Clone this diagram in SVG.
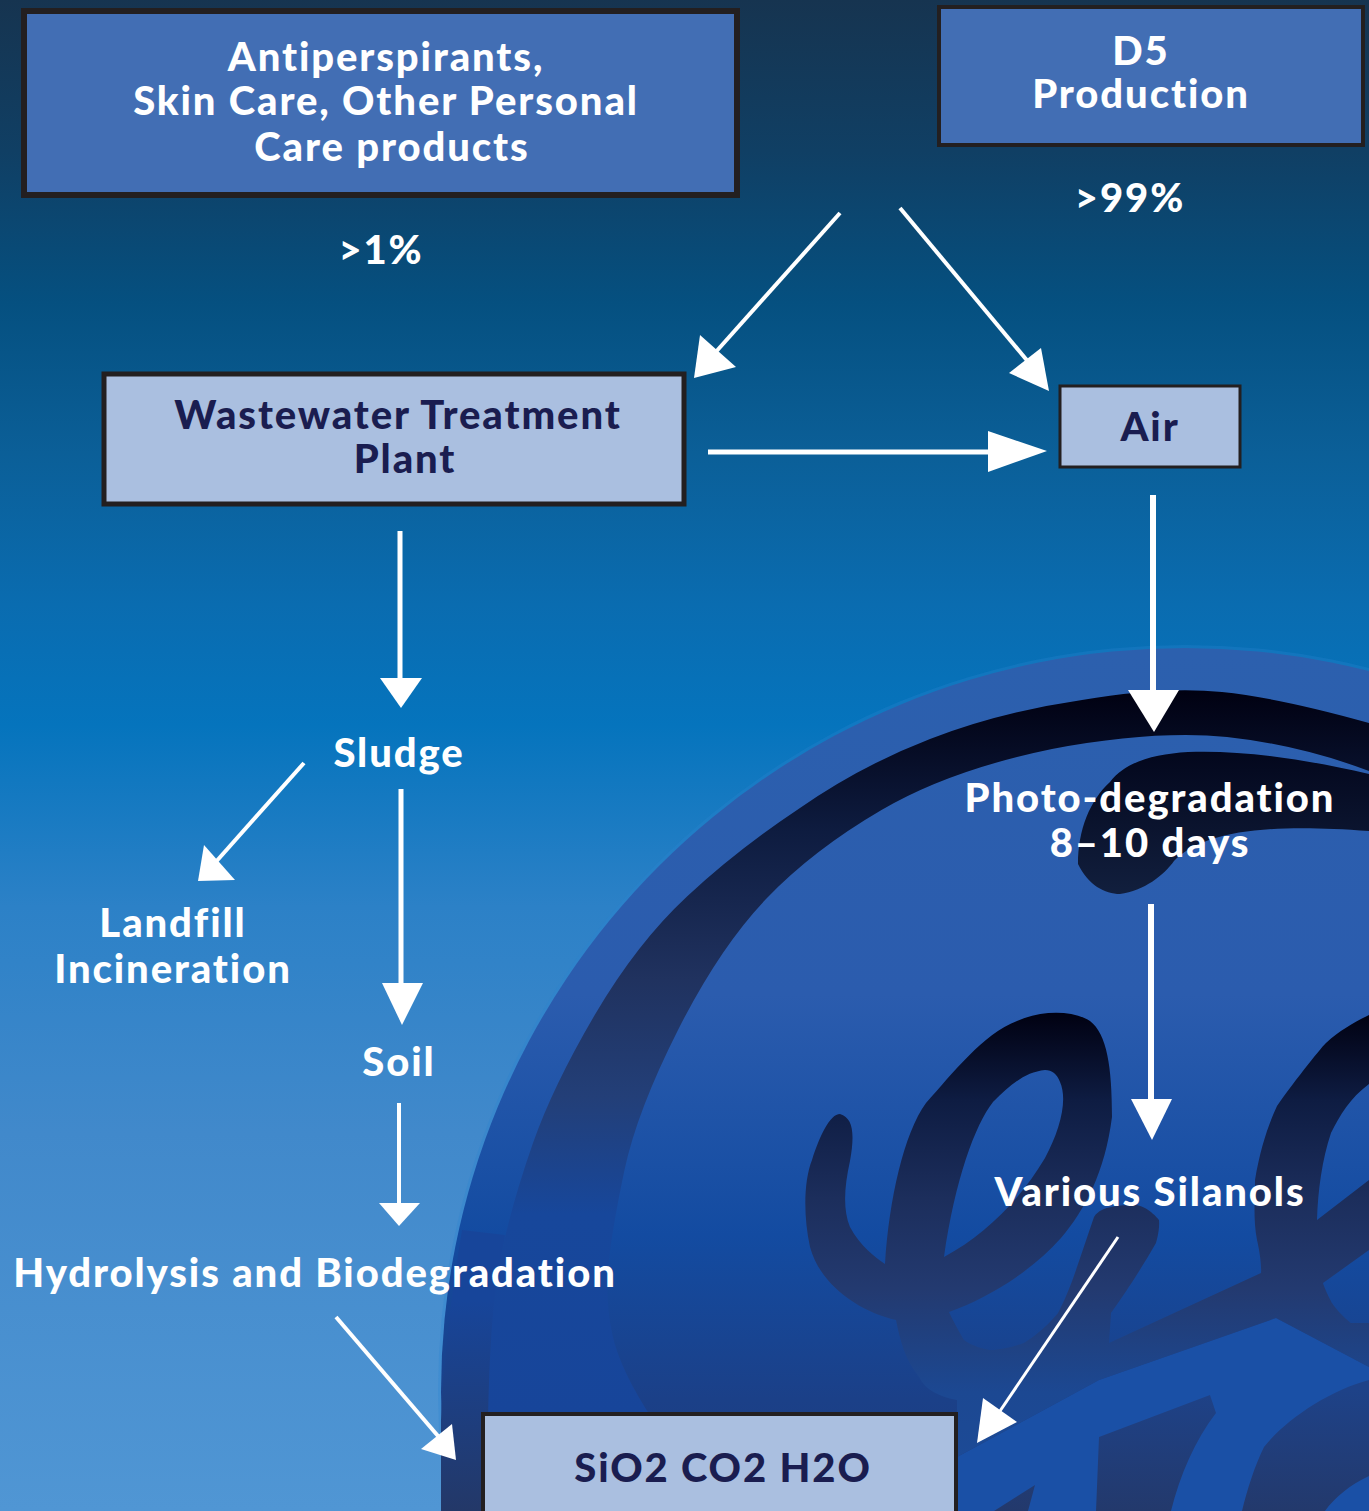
<svg xmlns="http://www.w3.org/2000/svg" width="1369" height="1511" viewBox="0 0 1369 1511">
<defs>
<linearGradient id="bg" x1="0" y1="0" x2="0" y2="1">
<stop offset="0" stop-color="#163450"/><stop offset=".1" stop-color="#103f64"/><stop offset=".2" stop-color="#055080"/><stop offset=".3" stop-color="#0b5f98"/><stop offset=".4" stop-color="#0a6cb0"/><stop offset=".48" stop-color="#0574bd"/><stop offset=".6" stop-color="#2c81c7"/><stop offset=".75" stop-color="#4189cb"/><stop offset="1" stop-color="#5096d4"/>
</linearGradient>
<linearGradient id="disc" gradientUnits="userSpaceOnUse" x1="0" y1="650" x2="0" y2="1511">
<stop offset="0" stop-color="#2c60ae"/><stop offset=".4" stop-color="#2b5cae"/><stop offset=".68" stop-color="#134ba1"/><stop offset=".87" stop-color="#1b4088"/><stop offset="1" stop-color="#1e3c80"/>
</linearGradient>
<linearGradient id="ring" gradientUnits="userSpaceOnUse" x1="0" y1="686" x2="0" y2="1420">
<stop offset="0" stop-color="#000010"/><stop offset=".2" stop-color="#0e1c40"/><stop offset=".4" stop-color="#20325f"/><stop offset=".56" stop-color="#233f78"/><stop offset=".72" stop-color="#17479b"/><stop offset="1" stop-color="#17459a"/>
</linearGradient>
<linearGradient id="ink" gradientUnits="userSpaceOnUse" x1="0" y1="741" x2="0" y2="900">
<stop offset="0" stop-color="#02051a"/><stop offset="1" stop-color="#12203f"/>
</linearGradient>
<linearGradient id="script" gradientUnits="userSpaceOnUse" x1="0" y1="1010" x2="0" y2="1460">
<stop offset="0" stop-color="#000010"/><stop offset=".2" stop-color="#0e1c42"/><stop offset=".42" stop-color="#1c2e5c"/><stop offset=".62" stop-color="#233a70"/><stop offset=".85" stop-color="#1c4892"/><stop offset="1" stop-color="#1c4a96"/>
</linearGradient>
<linearGradient id="block" gradientUnits="userSpaceOnUse" x1="0" y1="1390" x2="0" y2="1511">
<stop offset="0" stop-color="#1e4288"/><stop offset="1" stop-color="#23396c"/>
</linearGradient>
<linearGradient id="edge" gradientUnits="userSpaceOnUse" x1="0" y1="1300" x2="0" y2="1511">
<stop offset="0" stop-color="#17459a"/><stop offset="1" stop-color="#233868"/>
</linearGradient>
<style>
text{font-family:"Lato","Liberation Sans",sans-serif;font-weight:900;font-size:40px;letter-spacing:1.9px;text-anchor:middle;fill:#fff}
.d{fill:#1a1d50}
.dark{fill:#426eb4;stroke:#231f20}
.light{fill:#aabfe0;stroke:#231f20}
.ln{stroke:#fff;fill:none}
.hd{fill:#fff}
</style>
</defs>
<rect id="background" width="1369" height="1511" fill="url(#bg)"/>
<g id="logo">
<circle cx="1185" cy="1392" r="747" fill="#2a86d2" opacity=".3"/>
<circle cx="1185" cy="1392" r="744" fill="url(#disc)"/>
<path fill="url(#edge)" d="M462 1230Q445 1330 441 1420L441 1511H486L488 1420Q490 1330 505 1235Z"/>
<path fill="#1a55ab" d="M497 1300Q488 1370 490 1420H540Q530 1370 540 1300Z" opacity=".8"/>
<path fill="url(#ring)" d="M1369 723Q1280 698 1222 692Q1164 686 1082 700Q1000 712 930 739Q860 766 798.500 809Q737 850 687 896.500Q637 943 595 1014.500Q553 1086 533 1143Q513 1200 501.500 1252.500Q490 1305 488 1420L653 1420Q620 1370 612.500 1335Q605 1300 608.500 1264.500Q612 1229 624.500 1170Q637 1111 678.500 1029Q720 947 766.500 898.500Q813 850 881.500 810Q950 770 1052 749Q1154 730 1227 737Q1300 745 1369 771Z"/>
<path fill="url(#ink)" d="M1369 774C1300 758 1240 750 1188 752C1154 754 1125 762 1110 782C1090 800 1078 830 1078 864C1088 885 1105 894 1120 894C1144 891 1164 875 1174 861C1203 832 1262 823 1369 831Z"/>
<path fill="#1a50a6" d="M957 1457L1099 1380L1276 1318L1369 1367V1511H957Z"/>
<path fill="url(#script)" fill-rule="evenodd" d="M840 1114C853 1118 855 1133 850 1161C844 1188 843 1210 850 1227C860 1246 875 1257 885 1264C889 1199 904 1133 926 1103C953 1073 983 1034 1017 1021C1041 1010 1073 1010 1090 1021C1107 1034 1112 1067 1112 1117C1105 1172 1085 1210 1061 1238C1032 1271 988 1298 949 1312C955 1325 964 1340 964 1340C975 1348 990 1350 990 1350C1005 1350 1024 1343 1024 1343C1045 1330 1058 1313 1058 1313C1068 1295 1077 1267 1077 1267L1094 1217C1098 1210 1107 1208 1107 1208C1120 1204 1137 1205 1137 1205C1150 1208 1159 1220 1159 1220C1160 1230 1156 1243 1156 1243C1135 1280 1111 1313 1111 1313L1109 1343L1261 1273C1262 1260 1257 1240 1257 1240C1253 1220 1255 1199 1255 1180C1260 1150 1268 1125 1277 1106C1295 1080 1325 1043 1326 1043C1340 1030 1355 1022 1369 1015V1084C1350 1098 1340 1115 1331 1133C1322 1160 1318 1190 1317 1220L1369 1180V1250L1323 1283C1325 1290 1332 1303 1332 1303C1340 1315 1351 1323 1351 1323H1369V1367L1276 1318L1099 1380L957 1457V1400C940 1397 925 1390 919 1377C905 1360 900 1340 896 1320C860 1312 820 1285 810 1247C803 1215 804 1180 812 1160C820 1135 830 1114 840 1114ZM1045 1070C1025 1072 1010 1085 993 1102C975 1125 955 1180 944 1257C985 1235 1020 1200 1045 1158C1060 1130 1068 1100 1060 1082C1057 1074 1052 1070 1045 1070Z"/>
<path fill="url(#block)" d="M1099 1437L1210 1395L1216 1413C1195 1440 1180 1475 1171 1511H1096Z"/>
<path fill="url(#block)" d="M1242 1511C1247 1490 1255 1465 1264 1447C1285 1420 1330 1390 1369 1380V1476C1350 1485 1335 1497 1325 1511Z"/>
<path fill="url(#block)" d="M994 1511L1035 1485L1028 1511Z"/>
</g>
<g id="connectors">
<g class="ln">
<path stroke-width="4" d="M840 213L714 354"/>
<path stroke-width="4" d="M900 208L1030 364"/>
<path stroke-width="5" d="M708 452H995"/>
<path stroke-width="6" d="M1153 495V695"/>
<path stroke-width="6" d="M1151 904V1102"/>
<path stroke-width="3" d="M1118 1237L1000 1411"/>
<path stroke-width="5" d="M400 531V682"/>
<path stroke-width="4" d="M304 763L214 864"/>
<path stroke-width="5" d="M401 789V988"/>
<path stroke-width="4" d="M399 1103V1208"/>
<path stroke-width="4" d="M336 1317L438 1436"/>
</g>
<polygon class="hd" points="694,378 700,335 736,367"/>
<polygon class="hd" points="1049,391 1041,348 1009,373"/>
<polygon class="hd" points="1047,451 988,431 988,472"/>
<polygon class="hd" points="1154,732 1128,690 1179,690"/>
<polygon class="hd" points="1152,1140 1131,1099 1172,1099"/>
<polygon class="hd" points="977,1443 983,1398 1017,1422"/>
<polygon class="hd" points="401,708 380,678 422,678"/>
<polygon class="hd" points="198,881 204,845 235,880"/>
<polygon class="hd" points="402,1025 382,983 423,983"/>
<polygon class="hd" points="399,1226 379,1203 420,1203"/>
<polygon class="hd" points="456,1460 421,1449 452,1424"/>
</g>
<g id="node-personal-care">
<rect class="dark" x="24" y="11" width="713" height="184" stroke-width="6"/>
<text x="386" y="71">Antiperspirants,</text>
<text x="386" y="115">Skin Care, Other Personal</text>
<text x="392" y="161">Care products</text>
</g>
<g id="node-d5">
<rect class="dark" x="939" y="7" width="424" height="138" stroke-width="4"/>
<text x="1141" y="65">D5</text>
<text x="1141" y="108">Production</text>
</g>
<text id="label-99" x="1130" y="212">&gt;99%</text>
<text id="label-1" x="381" y="264">&gt;1%</text>
<g id="node-wwtp">
<rect class="light" x="104" y="374" width="580" height="130" stroke-width="5"/>
<text class="d" x="398" y="429">Wastewater Treatment</text>
<text class="d" x="405" y="473">Plant</text>
</g>
<g id="node-air">
<rect class="light" x="1060" y="386" width="180" height="81" stroke-width="3"/>
<text class="d" x="1150" y="441">Air</text>
</g>
<text id="node-sludge" x="399" y="767">Sludge</text>
<g id="node-landfill">
<text x="173" y="937">Landfill</text>
<text x="173" y="983">Incineration</text>
</g>
<text id="node-soil" x="399" y="1076">Soil</text>
<text id="node-hydrolysis" x="315" y="1287">Hydrolysis and Biodegradation</text>
<g id="node-photo">
<text x="1150" y="812">Photo-degradation</text>
<text x="1150" y="857">8–10 days</text>
</g>
<text id="node-silanols" x="1150" y="1206">Various Silanols</text>
<g id="node-products">
<rect class="light" x="483" y="1414" width="473" height="110" stroke-width="4"/>
<text class="d" x="723" y="1482">SiO2 CO2 H2O</text>
</g>
</svg>
